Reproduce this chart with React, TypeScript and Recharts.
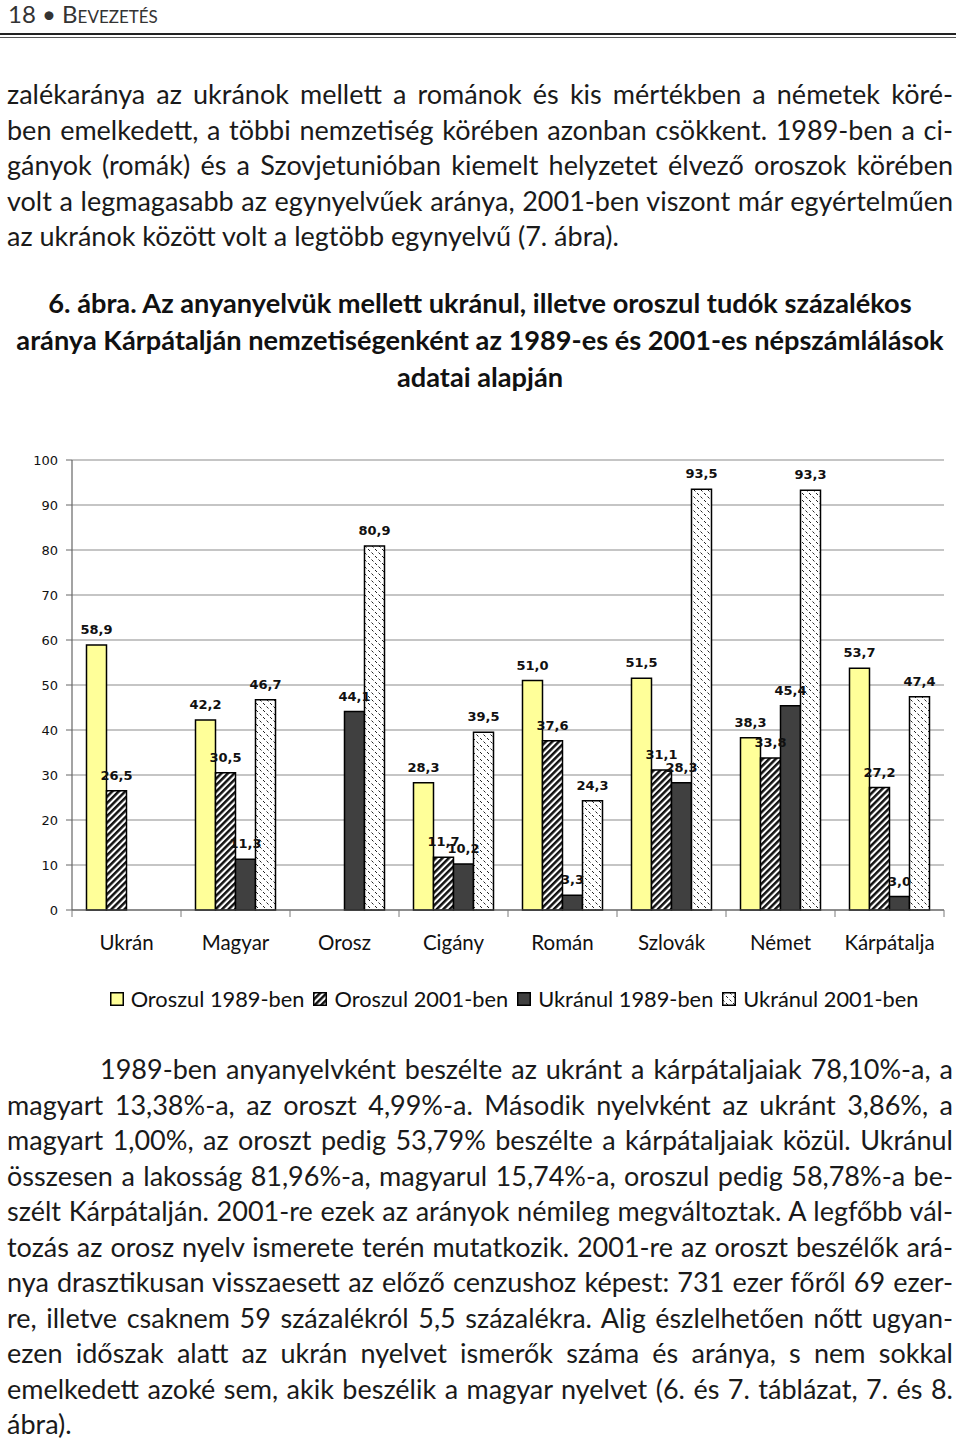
import React from "react";
import {
  BarChart,
  Bar,
  XAxis,
  YAxis,
  CartesianGrid,
  LabelList,
  Legend,
} from "recharts";

const categories = ["Ukrán", "Magyar", "Orosz", "Cigány", "Román", "Szlovák", "Német", "Kárpátalja"];
const oroszul1989 = [58.9, 42.2, null, 28.3, 51.0, 51.5, 38.3, 53.7];
const oroszul2001 = [26.5, 30.5, null, 11.7, 37.6, 31.1, 33.8, 27.2];
const ukranul1989 = [null, 11.3, 44.1, 10.2, 3.3, 28.3, 45.4, 3.0];
const ukranul2001 = [null, 46.7, 80.9, 39.5, 24.3, 93.5, 93.3, 47.4];
const yTicks = [0, 10, 20, 30, 40, 50, 60, 70, 80, 90, 100];

const seriesNames = ["Oroszul 1989-ben", "Oroszul 2001-ben", "Ukránul 1989-ben", "Ukránul 2001-ben"];

const data = categories.map((name, i) => ({
  name,
  o89: oroszul1989[i],
  o01: oroszul2001[i],
  u89: ukranul1989[i],
  u01: ukranul2001[i],
}));

const textBefore = [
  "zalékaránya az ukránok mellett a románok és kis mértékben a németek köré-",
  "ben emelkedett, a többi nemzetiség körében azonban csökkent. 1989-ben a ci-",
  "gányok (romák) és a Szovjetunióban kiemelt helyzetet élvező oroszok körében",
  "volt a legmagasabb az egynyelvűek aránya, 2001-ben viszont már egyértelműen",
  "az ukránok között volt a legtöbb egynyelvű (7. ábra).",
];

const caption = [
  "6. ábra. Az anyanyelvük mellett ukránul, illetve oroszul tudók százalékos",
  "aránya Kárpátalján nemzetiségenként az 1989-es és 2001-es népszámlálások",
  "adatai alapján",
];

const textAfter = [
  "1989-ben anyanyelvként beszélte az ukránt a kárpátaljaiak 78,10%-a, a",
  "magyart 13,38%-a, az oroszt 4,99%-a. Második nyelvként az ukránt 3,86%, a",
  "magyart 1,00%, az oroszt pedig 53,79% beszélte a kárpátaljaiak közül. Ukránul",
  "összesen a lakosság 81,96%-a, magyarul 15,74%-a, oroszul pedig 58,78%-a be-",
  "szélt Kárpátalján. 2001-re ezek az arányok némileg megváltoztak. A legfőbb vál-",
  "tozás az orosz nyelv ismerete terén mutatkozik. 2001-re az oroszt beszélők ará-",
  "nya drasztikusan visszaesett az előző cenzushoz képest: 731 ezer főről 69 ezer-",
  "re, illetve csaknem 59 százalékról 5,5 százalékra. Alig észlelhetően nőtt ugyan-",
  "ezen időszak alatt az ukrán nyelvet ismerők száma és aránya, s nem sokkal",
  "emelkedett azoké sem, akik beszélik a magyar nyelvet (6. és 7. táblázat, 7. és 8.",
  "ábra).",
];

const BODY_FONT = "Lato, 'Open Sans', sans-serif";
const CHART_FONT = "'DejaVu Sans', Verdana, sans-serif";

const fills = ["#FFFF99", "url(#hatchDiag)", "#404040", "url(#hatchDots)"];

const PLOT_LEFT = 72;
const PLOT_RIGHT = 944;
const BAND = (PLOT_RIGHT - PLOT_LEFT) / categories.length;

const fmt = (v: any) => (v === null || v === undefined ? "" : Number(v).toFixed(1).replace(".", ","));

function CategoryTick(props: any) {
  const { x, y, payload, index } = props;
  const last = index === categories.length - 1;
  return (
    <g>
      <line x1={x - BAND / 2} y1={y} x2={x - BAND / 2} y2={y + 7} stroke="#7a7a7a" />
      {last && <line x1={x + BAND / 2} y1={y} x2={x + BAND / 2} y2={y + 7} stroke="#7a7a7a" />}
      <text
        x={x}
        y={y + 35}
        textAnchor="middle"
        dominantBaseline="middle"
        fontFamily={BODY_FONT}
        fontSize={20.5}
        fill="#111"
      >
        {payload.value}
      </text>
    </g>
  );
}

function LegendContent() {
  return (
    <div
      style={{
        display: "flex",
        justifyContent: "center",
        alignItems: "center",
        fontFamily: BODY_FONT,
        fontSize: 21.8,
        color: "#111",
        gap: 9,
        whiteSpace: "nowrap",
      }}
    >
      {seriesNames.map((n, i) => (
        <span key={n} style={{ display: "inline-flex", alignItems: "center" }}>
          <svg width={14} height={14} style={{ marginRight: 7 }}>
            <rect x={0.75} y={0.75} width={12.5} height={12.5} fill={fills[i]} stroke="#000" strokeWidth={1.5} />
          </svg>
          {n}
        </span>
      ))}
    </div>
  );
}

function Lines({ lines, top, lh, size, justifyUpTo, indentFirst }: any) {
  return (
    <div style={{ position: "absolute", top, left: 7, width: 946 }}>
      {lines.map((t: string, i: number) => (
        <div
          key={i}
          style={{
            height: lh,
            lineHeight: `${lh}px`,
            fontSize: size,
            fontFamily: BODY_FONT,
            color: "#1a1a1a",
            textAlign: i < justifyUpTo ? "justify" : "left",
            textAlignLast: i < justifyUpTo ? "justify" : "left",
            paddingLeft: indentFirst && i === 0 ? 93 : 0,
            whiteSpace: "nowrap",
          }}
        >
          {t}
        </div>
      ))}
    </div>
  );
}

export default function App() {
  return (
    <div style={{ position: "absolute", top: 0, left: 0, width: 960, height: 1445, background: "#fff", overflow: "hidden" }}>
      <div
        style={{
          position: "absolute",
          top: 1,
          left: 8,
          height: 26,
          lineHeight: "26px",
          fontFamily: BODY_FONT,
          fontSize: 24,
          color: "#333",
          fontVariant: "small-caps",
          whiteSpace: "nowrap",
        }}
      >
        18 • Bevezetés
      </div>
      <div style={{ position: "absolute", top: 33, left: 0, width: 956, height: 2, background: "#222" }} />
      <div style={{ position: "absolute", top: 37, left: 0, width: 956, height: 1, background: "#555" }} />

      <Lines lines={textBefore} top={76} lh={35.5} size={27} justifyUpTo={4} />

      <div style={{ position: "absolute", top: 284, left: 0, width: 960, textAlign: "center" }}>
        {caption.map((t, i) => (
          <div
            key={i}
            style={{
              height: 37,
              lineHeight: "37px",
              fontSize: 27.2,
              fontWeight: "bold",
              fontFamily: BODY_FONT,
              color: "#111",
              whiteSpace: "nowrap",
            }}
          >
            {t}
          </div>
        ))}
      </div>

      <div style={{ position: "absolute", top: 440, left: 0 }}>
        <BarChart
          width={960}
          height={600}
          data={data}
          margin={{ top: 20, right: 16, bottom: 90, left: 0 }}
          barCategoryGap="13.3%"
          barGap={0}
        >
          <defs>
            <pattern id="hatchDiag" patternUnits="userSpaceOnUse" width={4.6} height={4.6} patternTransform="rotate(45)">
              <rect x={0} y={0} width={4.6} height={4.6} fill="#fff" />
              <rect x={0} y={0} width={2.5} height={4.6} fill="#111" />
            </pattern>
            <pattern id="hatchDots" patternUnits="userSpaceOnUse" width={7} height={7}>
              <rect x={0} y={0} width={7} height={7} fill="#fff" />
              <path d="M0.5,0.5 L2.5,2.5" stroke="#222" strokeWidth={1} />
              <path d="M4,4 L6,6" stroke="#222" strokeWidth={1} />
            </pattern>
          </defs>
          <CartesianGrid vertical={false} stroke="#8c8c8c" strokeWidth={1.2} />
          <XAxis
            dataKey="name"
            tick={<CategoryTick />}
            tickLine={false}
            tickSize={0}
            tickMargin={0}
            height={40}
            axisLine={{ stroke: "#555", strokeWidth: 1.2 }}
            interval={0}
          />
          <YAxis
            domain={[0, 100]}
            ticks={yTicks}
            width={72}
            tickSize={6}
            tickMargin={8}
            axisLine={{ stroke: "#666", strokeWidth: 1.2 }}
            tickLine={{ stroke: "#666" }}
            tick={{ fontFamily: CHART_FONT, fontSize: 13, fill: "#111" }}
          />
          <YAxis
            yAxisId="right"
            orientation="right"
            width={0}
            domain={[0, 100]}
            tick={false}
            tickLine={false}
            axisLine={{ stroke: "#8c8c8c", strokeWidth: 1.2 }}
          />
          <Legend
            verticalAlign="middle"
            align="center"
            content={<LegendContent />}
            wrapperStyle={{ top: 545, left: 0, width: 1028 }}
          />
          {(["o89", "o01", "u89", "u01"] as const).map((key, i) => (
            <Bar
              key={key}
              dataKey={key}
              name={seriesNames[i]}
              fill={fills[i]}
              stroke="#000"
              strokeWidth={1.5}
              isAnimationActive={false}
            >
              <LabelList
                dataKey={key}
                position="top"
                offset={11}
                formatter={fmt}
                style={{ fontFamily: CHART_FONT, fontSize: 13, fontWeight: "bold", fill: "#111" }}
              />
            </Bar>
          ))}
        </BarChart>
      </div>

      <Lines lines={textAfter} top={1051} lh={35.5} size={27} justifyUpTo={10} indentFirst />
    </div>
  );
}
